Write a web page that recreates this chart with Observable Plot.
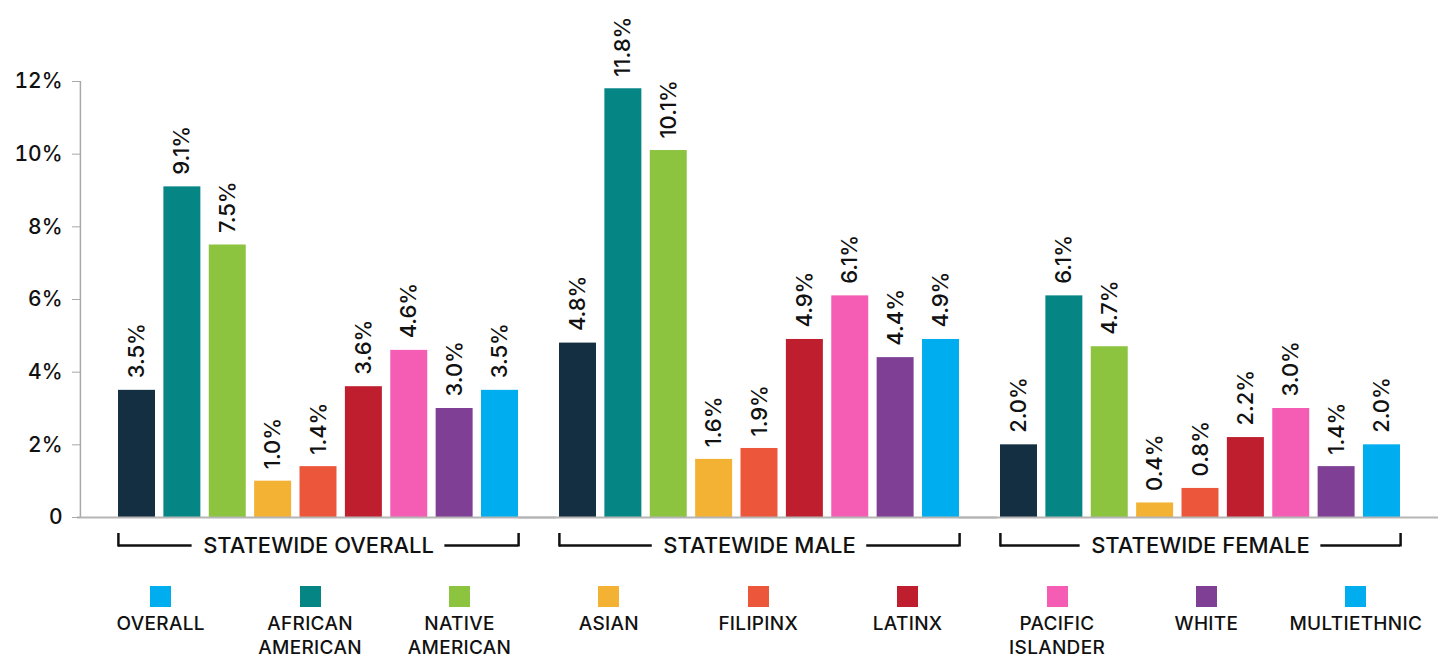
<!DOCTYPE html>
<html>
<head>
<meta charset="utf-8">
<script src="https://cdn.jsdelivr.net/npm/d3@7"></script>
<script src="https://cdn.jsdelivr.net/npm/@observablehq/plot@0.6"></script>
<style>
  html, body { margin: 0; padding: 0; background: #fff; }
  body { width: 1444px; height: 658px; overflow: hidden; font-family: Inter, "Open Sans", sans-serif; }
  #chart svg { display: block; }
  #legend { display: flex; padding-left: 86px; margin-top: 21px; }
  .item { width: 149.4px; display: flex; flex-direction: column; align-items: center; }
  .sw { width: 21px; height: 21px; }
  .lab { margin-top: 5px; font-size: 19px; font-weight: 500; line-height: 24px; text-align: center; color: #111; letter-spacing: 0.3px; }
</style>
</head>
<body>
<div id="chart"></div>
<div id="legend"></div>
<script>
const groups = ["STATEWIDE OVERALL", "STATEWIDE MALE", "STATEWIDE FEMALE"];
const categories = ["OVERALL", "AFRICAN AMERICAN", "NATIVE AMERICAN", "ASIAN", "FILIPINX", "LATINX", "PACIFIC ISLANDER", "WHITE", "MULTIETHNIC"];
const overallValues = [3.5, 9.1, 7.5, 1.0, 1.4, 3.6, 4.6, 3.0, 3.5];
const maleValues = [4.8, 11.8, 10.1, 1.6, 1.9, 4.9, 6.1, 4.4, 4.9];
const femaleValues = [2.0, 6.1, 4.7, 0.4, 0.8, 2.2, 3.0, 1.4, 2.0];
const barColors = ["#142F41", "#068585", "#8CC43F", "#F3B234", "#EC563B", "#BE1E2D", "#F55DB4", "#7F3F95", "#00AEEF"];
const legendColors = ["#00AEEF", "#068585", "#8CC43F", "#F3B234", "#EC563B", "#BE1E2D", "#F55DB4", "#7F3F95", "#00AEEF"];
const yTicks = [0, 2, 4, 6, 8, 10, 12];

const seriesByGroup = [overallValues, maleValues, femaleValues];
const data = [];
groups.forEach((g, gi) => categories.forEach((c, ci) => data.push({group: g, cat: c, value: seriesByGroup[gi][ci]})));

// measure group-label widths to leave a gap in the bracket lines
const groupFont = "500 22px Inter";
const ctx = document.createElement("canvas").getContext("2d");
ctx.font = groupFont;
const halfFacet = 200; // half of facet band width (px)
const gap = 11;
const bracketLeft = groups.map(g => ({g, inset: halfFacet + ctx.measureText(g).width / 2 + gap}));

const bw = 37.2; // approximate band width in px, used for axis-line offset
const chart = Plot.plot({
  width: 1444,
  height: 565,
  marginLeft: 80,
  marginRight: 6,
  marginTop: 81,
  marginBottom: 48,
  style: {fontFamily: "Inter, 'Open Sans', sans-serif", color: "#111", background: "#fff"},
  fx: {domain: groups, axis: null, paddingInner: 0.093, paddingOuter: 0.0862, round: false, label: null},
  x: {domain: categories, axis: null, paddingInner: 0.185, paddingOuter: 0, round: false, label: null},
  y: {domain: [0, d3.max(yTicks)], axis: null, label: null},
  color: {domain: categories, range: barColors},
  marks: [
    Plot.barY(data, {fx: "group", x: "cat", y: "value", fill: "cat"}),
    Plot.ruleY(groups, {fx: d => d, y: 0, insetLeft: -41, insetRight: -38, stroke: "#b5b5b5", strokeWidth: 2}),
    Plot.ruleX([{g: groups[0], c: categories[0]}], {fx: "g", x: "c", y1: 0, y2: d3.max(yTicks), dx: -(bw / 2 + 38), stroke: "#a8a8a8", strokeWidth: 1.5}),
    Plot.axisY({ticks: yTicks, tickFormat: d => d === 0 ? "0" : d + "%", tickSize: 8, tickPadding: 10, dx: -38, fontSize: 21, fontWeight: 500, stroke: "#a8a8a8", fill: "#111", label: null}),
    Plot.text(data, {fx: "group", x: "cat", y: "value", text: d => d.value.toFixed(1) + "%", rotate: -90, textAnchor: "start", dy: -12, fontSize: 22, fontWeight: 500, fill: "#111"}),
    // group brackets (left and right segments)
    ...bracketLeft.map(b => Plot.ruleY([b], {fx: "g", y: 0, dy: 28, insetRight: b.inset, stroke: "#111", strokeWidth: 2.5})),
    ...bracketLeft.map(b => Plot.ruleY([b], {fx: "g", y: 0, dy: 28, insetLeft: b.inset, stroke: "#111", strokeWidth: 2.5})),
    Plot.ruleX(groups.map(g => ({g, c: categories[0]})), {fx: "g", x: "c", y1: 0, y2: 0, dx: -bw / 2, insetTop: 16, insetBottom: -29.5, stroke: "#111", strokeWidth: 2.5}),
    Plot.ruleX(groups.map(g => ({g, c: categories[categories.length - 1]})), {fx: "g", x: "c", y1: 0, y2: 0, dx: bw / 2, insetTop: 16, insetBottom: -29.5, stroke: "#111", strokeWidth: 2.5}),
    Plot.text(groups, {fx: d => d, frameAnchor: "bottom", dy: 28, text: d => d, fontSize: 22, fontWeight: 500, fill: "#111", lineAnchor: "middle"})
  ]
});
document.getElementById("chart").appendChild(chart);

const legend = document.getElementById("legend");
categories.forEach((c, i) => {
  const item = document.createElement("div");
  item.className = "item";
  const sw = document.createElement("div");
  sw.className = "sw";
  sw.style.background = legendColors[i];
  const lab = document.createElement("div");
  lab.className = "lab";
  lab.textContent = c;
  item.appendChild(sw);
  item.appendChild(lab);
  legend.appendChild(item);
});
</script>
</body>
</html>
